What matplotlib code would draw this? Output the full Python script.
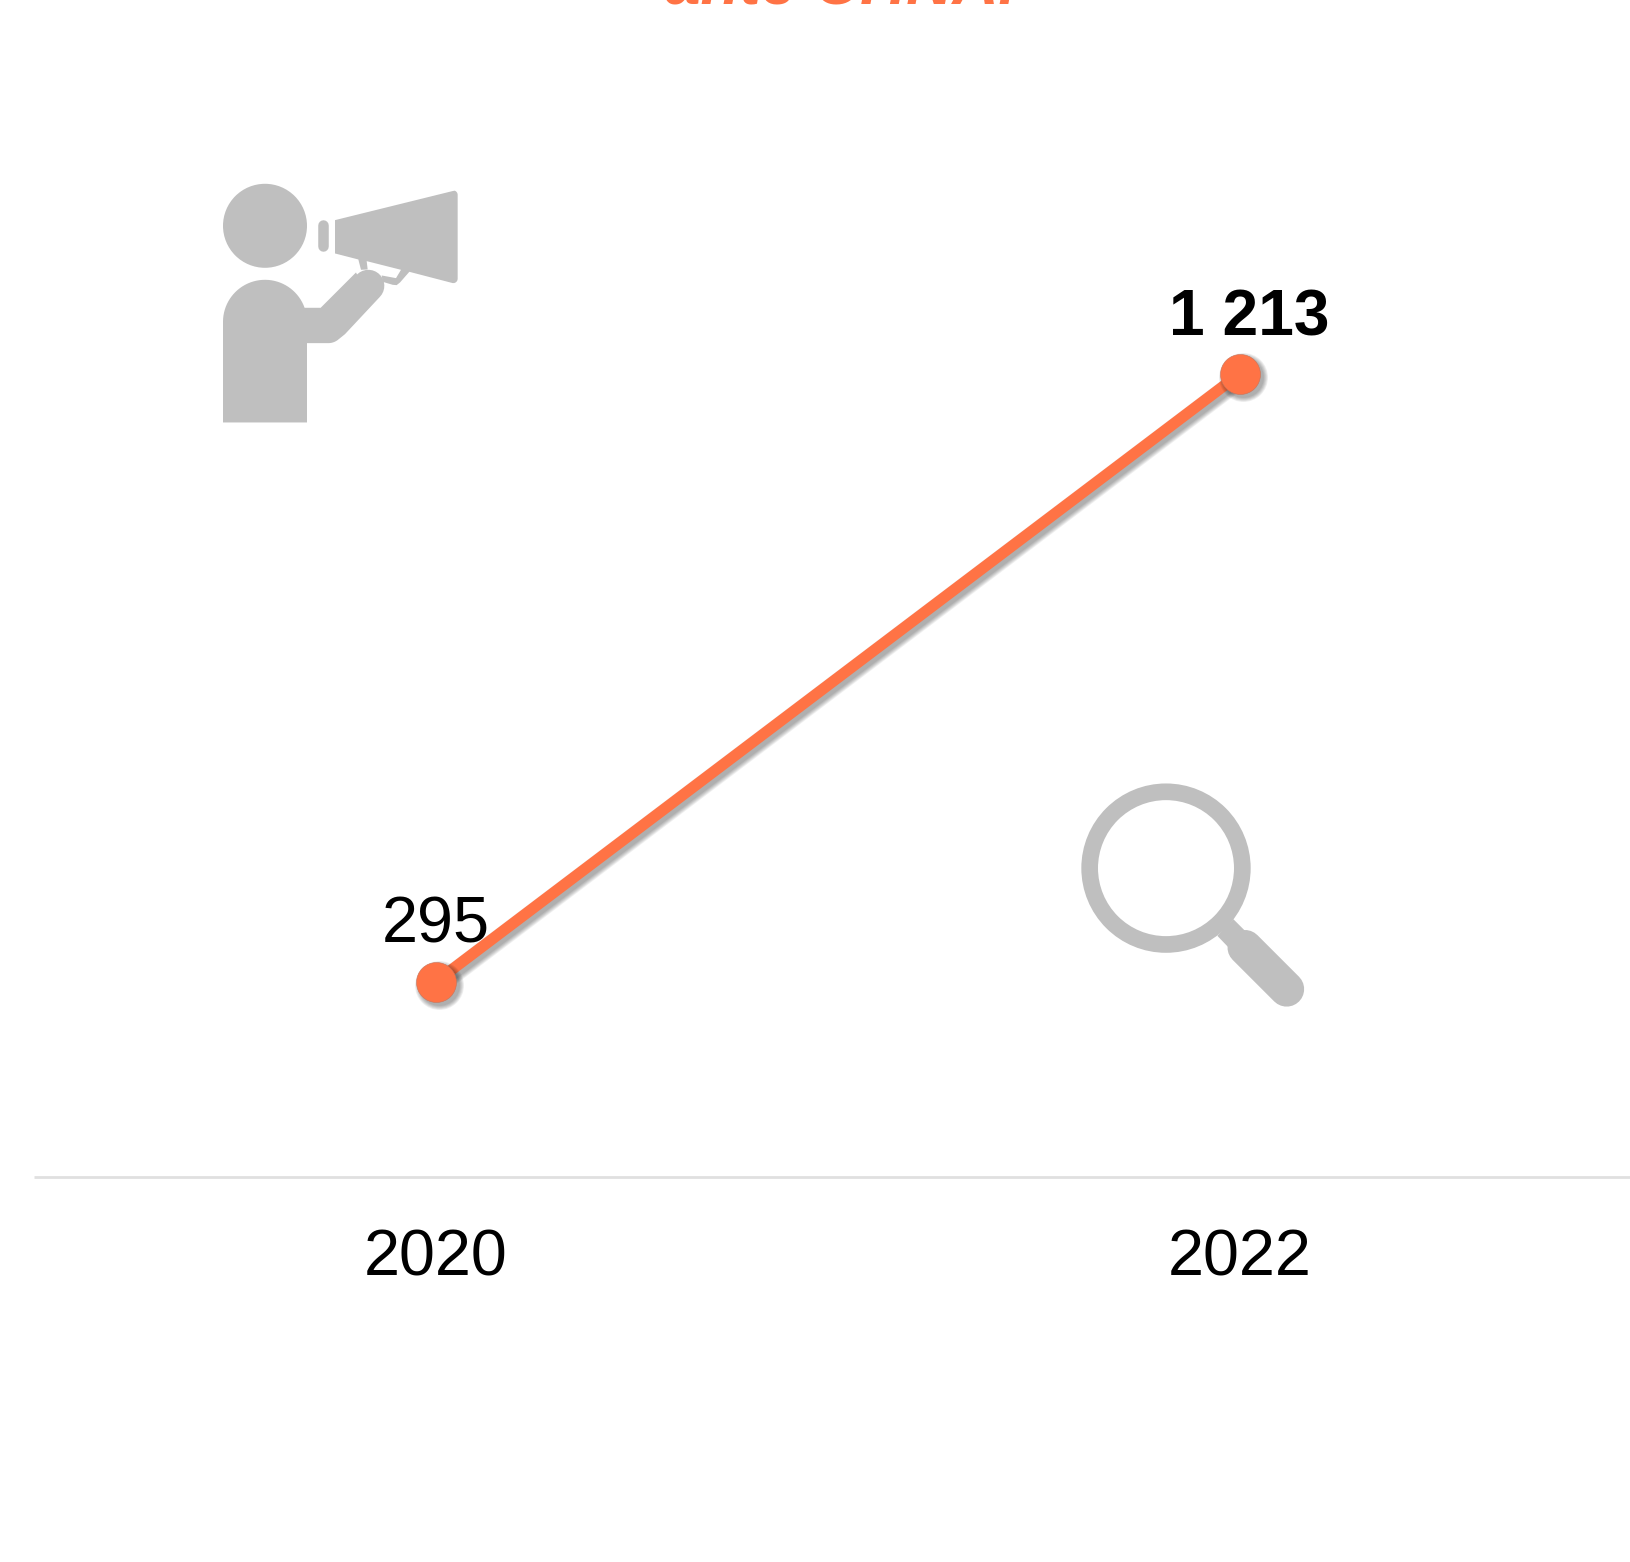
import numpy as np
import matplotlib
matplotlib.use("Agg")
import matplotlib.pyplot as plt
from matplotlib.patches import Circle, Polygon
from matplotlib.transforms import offset_copy

plt.rcParams['font.family'] = ['Liberation Sans', 'DejaVu Sans']

years = [2020, 2022]
values = [295, 1213]
value_labels = ['295', '1 213']
title = "ante CHNAi"

W, H = 1630, 1562
ORANGE = '#FF7345'
GREY = '#BFBFBF'
fig = plt.figure(figsize=(W/100, H/100), dpi=100, facecolor='white')

# chart axes: zero line at y=1177 px, left edge x=34 px
ax = fig.add_axes([34/W, (H-1177)/H, (W-34)/W, 1177/H])
ax.set_xlim(2019, 2019 + (W-34)/402.0)
ax.set_ylim(0, 1177/0.6623)
for s in ['top', 'left', 'right']:
    ax.spines[s].set_visible(False)
ax.spines['bottom'].set_color('#E0E0E0')
ax.spines['bottom'].set_linewidth(2.0)
ax.spines['bottom'].set_capstyle('butt')
ax.set_yticks([])
ax.set_xticks(years)
ax.set_xticklabels([str(y) for y in years], fontsize=46.6, color='black')
ax.tick_params(axis='x', length=0, pad=37)
ax.patch.set_alpha(0)

# soft drop shadows: stacked translucent copies, offset in pixels
shadow_tr = offset_copy(ax.transData, fig=fig, x=3, y=-3, units='dots')
layers = (6.5, 5.3, 4.1, 2.9, 1.7, 0.5)
for extra in layers:
    ax.plot(years, values, color='k', alpha=0.06, lw=8.0 + extra, solid_capstyle='butt',
            transform=shadow_tr, zorder=2)
ax.plot(years, values, color=ORANGE, lw=8.0, solid_capstyle='round', zorder=3)
for extra in layers:
    ax.plot(years, values, ls='none', marker='o', ms=28.8 + extra, mfc='k', mew=0, alpha=0.06,
            transform=shadow_tr, zorder=3.5)
ax.plot(years, values, ls='none', marker='o', ms=28.8, mfc=ORANGE, mec='#C9745A', mew=0.4, zorder=4)

ax.annotate(value_labels[0], (years[0], values[0]), xytext=(0, 26), textcoords='offset pixels',
            ha='center', va='bottom', fontsize=46.6, color='black', zorder=5)
ax.annotate(value_labels[1], (years[1], values[1]), xytext=(9, 25), textcoords='offset pixels',
            ha='center', va='bottom', fontsize=46.2, fontweight='bold', color='black', zorder=5)

# overlay in pixel coordinates for the pictograms and the clipped title
ov = fig.add_axes([0, 0, 1, 1], zorder=0)
ov.set_xlim(0, W); ov.set_ylim(H, 0); ov.axis('off')
ov.patch.set_alpha(0)

def Z(x, y):  # megaphone crop coordinates to pixels
    return (200 + x/3, 170.8 + y/3)

def arc(cx, cy, r, t0, t1, n=24):
    return [(cx + r*np.cos(t), cy + r*np.sin(t)) for t in np.linspace(t0, t1, n)]

# megaphone person
ov.add_patch(Circle(Z(195, 165), 126/3, fc=GREY, ec='none'))
body = [Z(69, 755), Z(69, 453)]
body += [Z(x, y) for x, y in arc(195, 453, 126, np.pi, 2*np.pi - 0.34, 40)]
body += [Z(362, 411), Z(468, 305)]
body += [Z(x, y) for x, y in arc(505, 345, 48, -0.75*np.pi, 0.25*np.pi, 16)]
body += [Z(435, 490)]
body += [Z(x, y) for x, y in arc(385, 470, 47, 0.3*np.pi, 0.5*np.pi, 8)]
body += [Z(321, 517), Z(321, 755)]
ov.add_patch(Polygon(body, closed=True, fc=GREY, ec='none'))
horn = [Z(405, 148), Z(757, 61)] + [Z(x, y) for x, y in arc(760, 72, 13, -0.4*np.pi, 0, 6)]
horn += [Z(773, 326)] + [Z(x, y) for x, y in arc(760, 324, 13, 0, 0.55*np.pi, 6)]
horn += [Z(628, 303), Z(600, 335), Z(590, 343), Z(578, 342), Z(548, 333), Z(545, 314),
         Z(588, 322), Z(603, 297), Z(500, 271), Z(503, 296), Z(483, 297), Z(475, 266), Z(405, 248)]
ov.add_patch(Polygon(horn, closed=True, fc=GREY, ec='none'))
ov.plot(*zip(Z(369, 163), Z(369, 227)), color=GREY, lw=10.5*0.72, solid_capstyle='round')

# magnifier
def M(x, y):
    return (1060 + x/3, 770.8 + y/3)
cx, cy = M(318, 292)
ov.add_patch(Circle((cx, cy), 229/3, fc='none', ec=GREY, lw=12.0))
ov.add_patch(Polygon([M(520, 445), M(570, 495), M(520, 545), M(472, 495)], closed=True, fc=GREY, ec='none'))
ov.plot(*zip(M(555, 530), M(680, 655)), color=GREY, lw=35*0.72, solid_capstyle='round')

fig.text(841/W, 1 - 4/H, title, ha='center', va='baseline', fontsize=46, fontweight='bold',
         style='italic', color=ORANGE)

fig.savefig('out.png', dpi=100, facecolor='white')
